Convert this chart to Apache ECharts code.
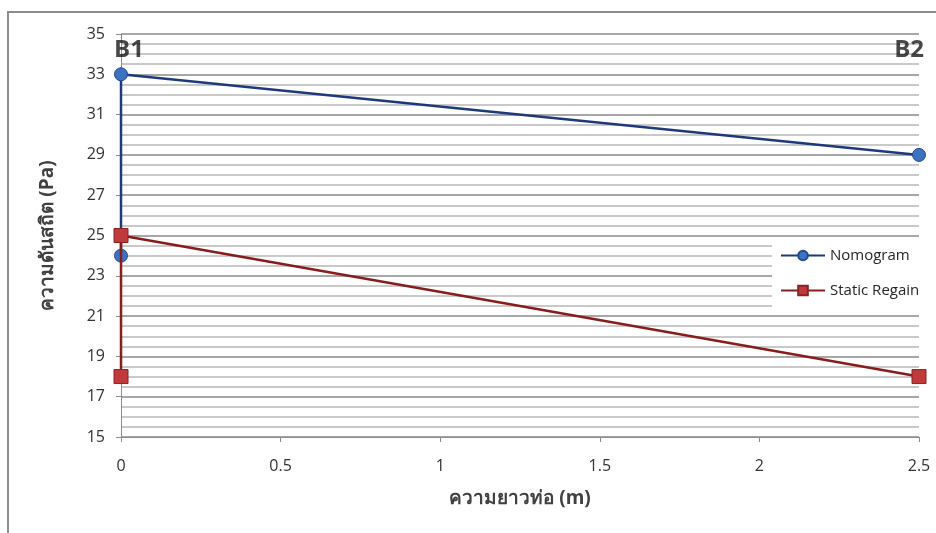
<!DOCTYPE html>
<html>
<head>
<meta charset="utf-8">
<script src="https://cdn.jsdelivr.net/npm/echarts@6/dist/echarts.min.js"></script>
<style>
  html, body { margin: 0; padding: 0; background: #fff; }
  #chart { width: 936px; height: 533px; }
</style>
</head>
<body>
<div id="chart"></div>
<script>
// Pipe length (m) and static pressure (Pa) for each design method
const nomogramX = [0, 0, 2.5];
const nomogramY = [24, 33, 29];
const staticRegainX = [0, 0, 2.5];
const staticRegainY = [18, 25, 18];

// Section names shown above the two branch points
const sectionNames = ['B1', 'B2'];
const sectionX = [0, 2.5];
const sectionY = [34.2, 34.2];

const seriesNames = ['Nomogram', 'Static Regain'];
const xTitle = 'ความยาวท่อ (m)';
const yTitle = 'ความดันสถิต (Pa)';

const fontFam = '"Open Sans", "Noto Sans", "DejaVu Sans", sans-serif';

const pairs = (xs, ys) => xs.map((x, i) => [x, ys[i]]);

const chart = echarts.init(document.getElementById('chart'), null, { renderer: 'canvas' });

chart.setOption({
  animation: false,
  backgroundColor: '#fff',
  textStyle: { fontFamily: fontFam },
  graphic: [{
    type: 'rect',
    shape: { x: 8, y: 12, width: 960, height: 560 },
    style: { fill: 'none', stroke: '#8c8c8c', lineWidth: 2 },
    z: 0
  }],
  grid: { left: 121, right: 17, top: 34, bottom: 96 },
  legend: {
    data: seriesNames,
    orient: 'vertical',
    left: 772,
    top: 238,
    width: 170,
    itemWidth: 44,
    itemHeight: 12,
    itemGap: 20,
    itemTextGap: 3,
    padding: [10, 20, 10, 8],
    backgroundColor: '#fff',
    textStyle: { fontSize: 15, color: '#262626', fontFamily: fontFam }
  },
  xAxis: {
    type: 'value',
    min: 0,
    max: 2.5,
    interval: 0.5,
    name: xTitle,
    nameLocation: 'middle',
    nameGap: 52,
    nameTextStyle: { fontSize: 19, fontWeight: 'bold', color: '#404040', fontFamily: fontFam },
    axisLine: { show: true, onZero: false, lineStyle: { color: '#8c8c8c', width: 1 } },
    axisTick: { show: true, length: 5, lineStyle: { color: '#8c8c8c' } },
    axisLabel: { fontSize: 16, color: '#333', margin: 21, fontFamily: fontFam },
    splitLine: { show: false }
  },
  yAxis: {
    type: 'value',
    min: 15,
    max: 35,
    interval: 2,
    name: yTitle,
    nameLocation: 'middle',
    nameGap: 64,
    nameRotate: 90,
    nameTextStyle: { fontSize: 19, fontWeight: 'bold', color: '#404040', fontFamily: fontFam },
    axisLine: { show: true, lineStyle: { color: '#8c8c8c', width: 1 } },
    axisTick: { show: true, inside: false, length: 5, lineStyle: { color: '#8c8c8c' } },
    axisLabel: { fontSize: 16, color: '#333', margin: 16, fontFamily: fontFam },
    splitLine: { show: true, lineStyle: { color: '#8a8a8a', width: 1.5 } },
    minorTick: { show: false, splitNumber: 4 },
    minorSplitLine: { show: true, lineStyle: { color: '#b8b8b8', width: 1.5 } }
  },
  series: [
    {
      name: seriesNames[0],
      type: 'line',
      data: pairs(nomogramX, nomogramY),
      symbol: 'circle',
      symbolSize: 13,
      lineStyle: { color: '#1f3a7a', width: 2.5 },
      itemStyle: { color: '#3d72c0', borderColor: '#254a8a', borderWidth: 1 },
      z: 3
    },
    {
      name: seriesNames[1],
      type: 'line',
      data: pairs(staticRegainX, staticRegainY),
      symbol: 'rect',
      symbolSize: 14,
      lineStyle: { color: '#8b1c1c', width: 2.5 },
      itemStyle: { color: '#c0393b', borderColor: '#8b2323', borderWidth: 1 },
      z: 4
    },
    {
      name: 'sections',
      type: 'scatter',
      symbolSize: 0,
      silent: true,
      data: sectionNames.map((n, i) => ({
        name: n,
        value: [sectionX[i], sectionY[i]],
        label: {
          show: true,
          formatter: '{b}',
          position: i === 0 ? 'right' : 'left',
          distance: i === 0 ? -7 : -5,
          fontSize: 24,
          fontWeight: 'bold',
          color: '#1a1a1a',
          fontFamily: fontFam
        }
      })),
      z: 5
    }
  ]
});
</script>
</body>
</html>
